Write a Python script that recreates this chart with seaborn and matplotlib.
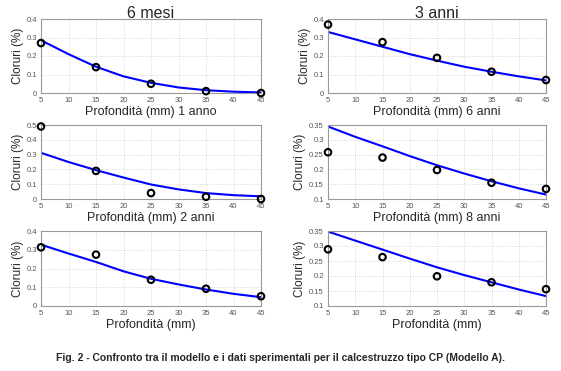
import matplotlib
matplotlib.use("Agg")
import matplotlib.pyplot as plt
import seaborn as sns
import pandas as pd

sns.set_style("white")
plt.rcParams['font.family'] = ['Liberation Sans', 'DejaVu Sans']

depth = [5, 15, 25, 35, 45]
model_x = [5, 10, 15, 20, 25, 30, 35, 40, 45]

titles = ["6 mesi", "3 anni", "", "", "", ""]
xlabels = ["Profondità (mm) 1 anno", "Profondità (mm) 6 anni",
           "Profondità (mm) 2 anni", "Profondità (mm) 8 anni",
           "Profondità (mm)", "Profondità (mm)"]

obs_6mesi = [0.27, 0.14, 0.05, 0.01, 0.0]
mod_6mesi = [0.285, 0.21, 0.142, 0.09, 0.055, 0.03, 0.015, 0.007, 0.003]
obs_3anni = [0.37, 0.275, 0.19, 0.115, 0.07]
mod_3anni = [0.33, 0.29, 0.25, 0.21, 0.175, 0.142, 0.115, 0.09, 0.068]
obs_1anno = [0.49, 0.19, 0.04, 0.015, 0.0]
mod_1anno = [0.312, 0.25, 0.195, 0.145, 0.098, 0.065, 0.04, 0.026, 0.018]
obs_6anni = [0.258, 0.24, 0.198, 0.155, 0.134]
mod_6anni = [0.345, 0.31, 0.278, 0.245, 0.214, 0.186, 0.16, 0.136, 0.115]
obs_2anni = [0.313, 0.274, 0.14, 0.092, 0.052]
mod_2anni = [0.327, 0.28, 0.235, 0.185, 0.145, 0.115, 0.088, 0.065, 0.047]
obs_8anni = [0.289, 0.263, 0.199, 0.179, 0.156]
mod_8anni = [0.348, 0.318, 0.288, 0.258, 0.229, 0.203, 0.179, 0.155, 0.133]

panels = [
    (obs_6mesi, mod_6mesi, (0, 0.4), [0, 0.1, 0.2, 0.3, 0.4], ["0", "0.1", "0.2", "0.3", "0.4"]),
    (obs_3anni, mod_3anni, (0, 0.4), [0, 0.1, 0.2, 0.3, 0.4], ["0", "0.1", "0.2", "0.3", "0.4"]),
    (obs_1anno, mod_1anno, (0, 0.5), [0, 0.1, 0.2, 0.3, 0.4, 0.5], ["0", "0.1", "0.2", "0.3", "0.4", "0.5"]),
    (obs_6anni, mod_6anni, (0.1, 0.35), [0.1, 0.15, 0.2, 0.25, 0.3, 0.35], ["0.1", "0.15", "0.2", "0.25", "0.3", "0.35"]),
    (obs_2anni, mod_2anni, (0, 0.4), [0, 0.1, 0.2, 0.3, 0.4], ["0", "0.1", "0.2", "0.3", "0.4"]),
    (obs_8anni, mod_8anni, (0.1, 0.35), [0.1, 0.15, 0.2, 0.25, 0.3, 0.35], ["0.1", "0.15", "0.2", "0.25", "0.3", "0.35"]),
]

W, H = 561, 371
fig = plt.figure(figsize=(W / 100, H / 100), dpi=100)
lefts = [41, 328]
widths = [220, 218]
tops = [19, 125, 231]
heights = [74, 74, 75]

for i, (obs, mod, ylim, yt, ytl) in enumerate(panels):
    r, c = divmod(i, 2)
    l = lefts[c]; w = widths[c]; t = tops[r]; h = heights[r]
    ax = fig.add_axes([l / W, 1 - (t + h) / H, w / W, h / H])
    sns.lineplot(x=model_x, y=mod, ax=ax, color=(0, 0, 1), linewidth=1.5)
    sns.scatterplot(x=depth, y=obs, ax=ax, marker="o", s=22, facecolor="none",
                    edgecolor="black", linewidth=1.5, clip_on=False, zorder=5)
    ax.set_xlim(5, 45)
    ax.set_ylim(*ylim)
    ax.set_xticks([5, 10, 15, 20, 25, 30, 35, 40, 45])
    ax.set_xticklabels(["5", "10", "15", "20", "25", "30", "35", "40", "45"])
    ax.set_yticks(yt)
    ax.set_yticklabels(ytl)
    ax.tick_params(labelsize=5.5, colors="#555555", length=2, pad=1, width=0.5)
    ax.grid(True, linestyle=":", color="#cccccc", linewidth=0.6)
    for s in ax.spines.values():
        s.set_color("#999999")
        s.set_linewidth(0.8)
    ax.set_xlabel(xlabels[i], fontsize=9, labelpad=1)
    ax.set_ylabel("Cloruri (%)", fontsize=8.5, labelpad=2)
    if titles[i]:
        ax.set_title(titles[i], fontsize=11.5, pad=1)

fig.text(0.5, 1 - 358 / H, "Fig. 2 - Confronto tra il modello e i dati sperimentali per il calcestruzzo tipo CP (Modello A).",
         ha="center", va="center", fontsize=7.5, fontweight="bold")

fig.savefig("out.png", dpi=100)
